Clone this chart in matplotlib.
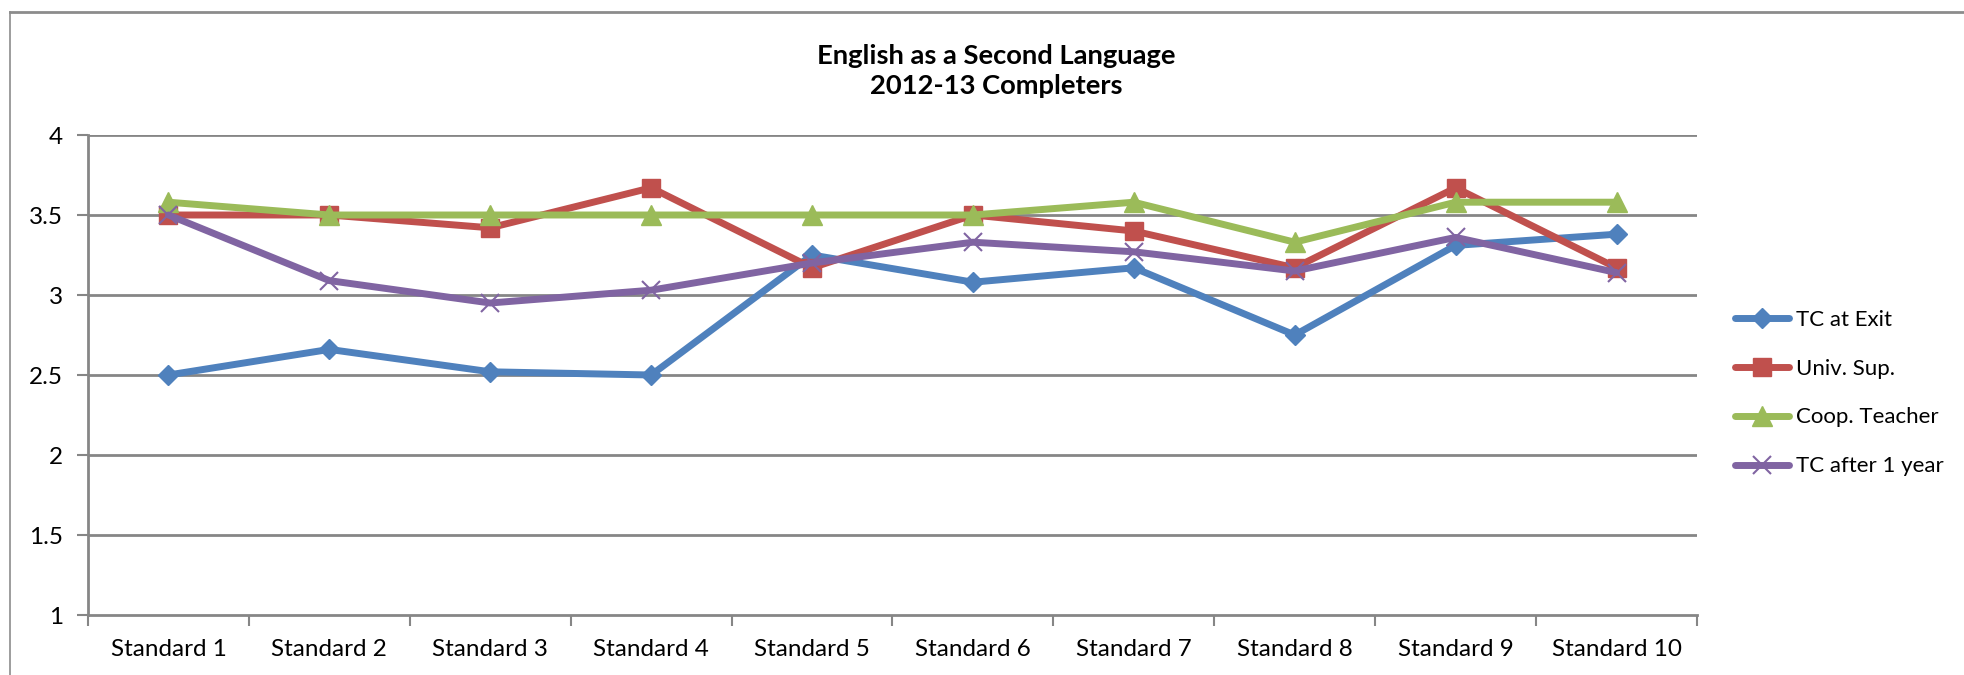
import matplotlib
matplotlib.use("Agg")
import matplotlib.pyplot as plt
from matplotlib.lines import Line2D

categories = ["Standard 1", "Standard 2", "Standard 3", "Standard 4", "Standard 5",
              "Standard 6", "Standard 7", "Standard 8", "Standard 9", "Standard 10"]
tc_exit = [2.50, 2.66, 2.52, 2.50, 3.25, 3.08, 3.17, 2.75, 3.31, 3.38]
univ_sup = [3.50, 3.50, 3.42, 3.67, 3.17, 3.50, 3.40, 3.17, 3.67, 3.17]
coop_teacher = [3.58, 3.50, 3.50, 3.50, 3.50, 3.50, 3.58, 3.33, 3.58, 3.58]
tc_after = [3.50, 3.09, 2.95, 3.03, 3.20, 3.33, 3.27, 3.15, 3.36, 3.14]
y_ticks = [1, 1.5, 2, 2.5, 3, 3.5, 4]
y_tick_labels = ["1", "1.5", "2", "2.5", "3", "3.5", "4"]
title = "English as a Second Language\n2012-13 Completers"

plt.rcParams['font.family'] = ['Lato', 'DejaVu Sans']

W, H = 1965, 675
fig = plt.figure(figsize=(W / 100, H / 100), dpi=100)

# outer chart frame (top and left edges visible)
frame_col = "#8c8c8c"
fig.add_artist(Line2D([10 / W, 1.0], [1 - 12 / H, 1 - 12 / H], transform=fig.transFigure,
                      color=frame_col, lw=2))
fig.add_artist(Line2D([10 / W, 10 / W], [0, 1 - 12 / H], transform=fig.transFigure,
                      color=frame_col, lw=1.2))

ax = fig.add_axes([88 / W, (H - 615) / H, (1697 - 88) / W, 480 / H])

grid_col = "#868686"
x = [i + 0.5 for i in range(len(categories))]

series = [
    ("TC at Exit", tc_exit, "#4F81BD", "D", 10, {}),
    ("Univ. Sup.", univ_sup, "#C0504D", "s", 13, {}),
    ("Coop. Teacher", coop_teacher, "#9BBB59", "^", 14, {}),
    ("TC after 1 year", tc_after, "#8064A2", "x", 13, {"markeredgewidth": 1.5}),
]
for name, vals, col, mk, ms, extra in series:
    ax.plot(x, vals, color=col, lw=5, marker=mk, markersize=ms,
            markerfacecolor=col, markeredgecolor=col, label=name,
            solid_joinstyle="round", solid_capstyle="round", zorder=3, **extra)

ax.set_xlim(0, len(categories))
ax.set_ylim(1, 4)
ax.set_yticks(y_ticks)
ax.set_yticklabels(y_tick_labels)
for yv in y_ticks[1:]:
    ax.axhline(yv, color=grid_col, lw=2, zorder=1)

ax.set_xticks(range(len(categories) + 1))
ax.set_xticklabels([])
ax.set_xticks(x, minor=True)
ax.set_xticklabels(categories, minor=True)
ax.tick_params(axis="x", which="major", length=8, width=1.5, color=grid_col, direction="out")
ax.tick_params(axis="x", which="minor", length=0, pad=17, labelsize=17.5)
ax.tick_params(axis="y", length=8, width=1.5, color=grid_col, direction="out", labelsize=17.5, pad=10)

for s in ["top", "right"]:
    ax.spines[s].set_visible(False)
for s in ["left", "bottom"]:
    ax.spines[s].set_color(grid_col)
    ax.spines[s].set_linewidth(2)

fig.text(996 / W, 1 - 71 / H, title, ha="center", va="center", fontsize=19.7,
         fontweight="bold", linespacing=1.3)

leg = ax.legend(loc="center left", bbox_to_anchor=(1735 / W, 1 - 393 / H),
                bbox_transform=fig.transFigure, frameon=False, fontsize=16,
                borderpad=0, borderaxespad=0,
                handlelength=2.45, handletextpad=0.28, labelspacing=1.3)

fig.savefig("out.png", dpi=100)
